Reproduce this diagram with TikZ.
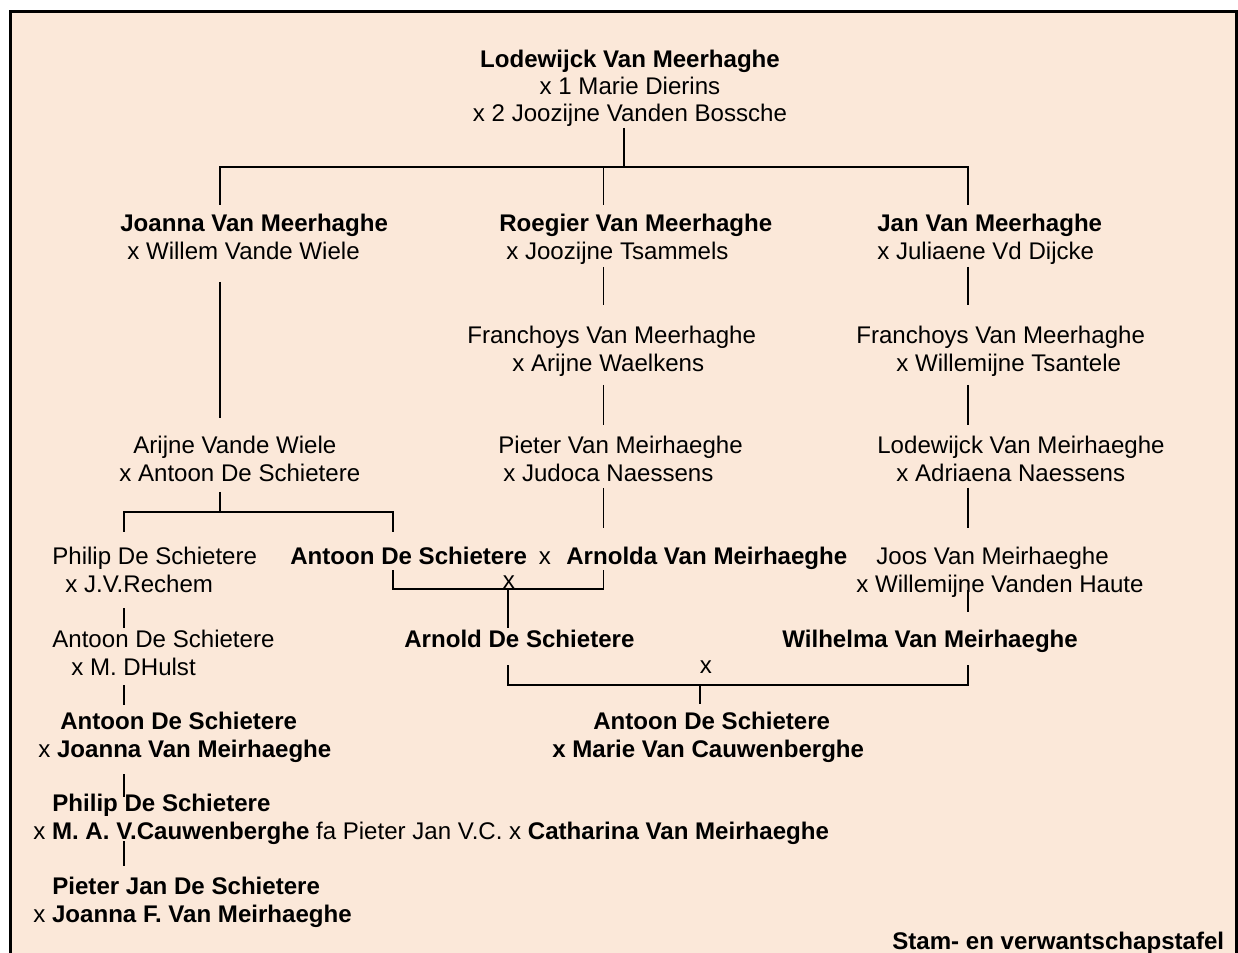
\documentclass[tikz,border=0pt]{standalone}
\usepackage{fontspec}
\setmainfont{Liberation Sans}
\definecolor{chart}{RGB}{251,232,217}
\tikzset{
	plainname/.style={inner sep=0pt, anchor=base west},
	boldname/.style={plainname, font=\bfseries},
	branch/.style={line width=0.85pt},
	chartframe/.style={line width=1.7pt}
}
\begin{document}
\fontsize{13.7}{16}\selectfont
\begin{tikzpicture}
	%Background
		\fill[white] (0,0) rectangle (24.76,-19.06);
		\useasboundingbox (0,0) rectangle (24.76,-19.06);
		\fill[chart] (0.21,-0.23) rectangle (24.72,-19.06);
		\draw[chartframe] (0.21,-19.2) -- (0.21,-0.23) -- (24.72,-0.23) -- (24.72,-19.2);
	%Lodewijck Van Meerhaghe
		\node[boldname, anchor=base] (lode) at (12.60,-1.36) {Lodewijck Van Meerhaghe};
		\node[plainname, anchor=base] (lodeA) at (12.60,-1.90) {x 1 Marie Dierins};
		\node[plainname, anchor=base] (lodeB) at (12.60,-2.44) {x 2 Joozijne Vanden Bossche};
	%Lodewijck->children
		\coordinate (lodeStem) at (12.48,-2.56);
		\coordinate (lodeBar) at (12.48,-3.34);
		\coordinate (joannaStem) at (4.40,-4.10);
		\coordinate (roegierStem) at (12.07,-4.10);
		\coordinate (janStem) at (19.36,-4.10);
		\draw[branch] (lodeStem) -- (lodeBar);
		\draw[branch] (joannaStem) |- (lodeBar) -| (janStem);
		\draw[branch] (roegierStem) -- (roegierStem |- lodeBar);
	%Joanna Van Meerhaghe
		\node[boldname] (joanna) at (2.40,-4.64) {Joanna Van Meerhaghe};
		\node[plainname] (joannaX) at (2.54,-5.20) {x Willem Vande Wiele};
	%Roegier Van Meerhaghe
		\node[boldname] (roegier) at (9.98,-4.64) {Roegier Van Meerhaghe};
		\node[plainname] (roegierX) at (10.12,-5.20) {x Joozijne Tsammels};
	%Jan Van Meerhaghe
		\node[boldname] (jan) at (17.54,-4.64) {Jan Van Meerhaghe};
		\node[plainname] (janX) at (17.54,-5.20) {x Juliaene Vd Dijcke};
	%Joanna->Arijne
		\coordinate (joannaDown) at (4.40,-5.64);
		\coordinate (arijneUp) at (4.40,-8.36);
		\draw[branch] (joannaDown) -- (arijneUp);
	%Roegier->Franchoys
		\coordinate (roegierDown) at (12.07,-5.34);
		\coordinate (franchoysAUp) at (12.07,-6.10);
		\draw[branch] (roegierDown) -- (franchoysAUp);
	%Jan->Franchoys
		\coordinate (janDown) at (19.36,-5.34);
		\coordinate (franchoysBUp) at (19.36,-6.10);
		\draw[branch] (janDown) -- (franchoysBUp);
	%Franchoys Van Meerhaghe (middle)
		\node[plainname] (franchoysA) at (9.34,-6.87) {Franchoys Van Meerhaghe};
		\node[plainname] (franchoysAX) at (10.24,-7.43) {x Arijne Waelkens};
	%Franchoys Van Meerhaghe (right)
		\node[plainname] (franchoysB) at (17.12,-6.87) {Franchoys Van Meerhaghe};
		\node[plainname] (franchoysBX) at (17.92,-7.43) {x Willemijne Tsantele};
	%Franchoys->Pieter
		\coordinate (franchoysADown) at (12.07,-7.70);
		\coordinate (pieterUp) at (12.07,-8.50);
		\draw[branch] (franchoysADown) -- (pieterUp);
	%Franchoys->Lodewijck
		\coordinate (franchoysBDown) at (19.36,-7.70);
		\coordinate (lodewijckUp) at (19.36,-8.50);
		\draw[branch] (franchoysBDown) -- (lodewijckUp);
	%Arijne Vande Wiele
		\node[plainname] (arijne) at (2.66,-9.07) {Arijne Vande Wiele};
		\node[plainname] (arijneX) at (2.38,-9.63) {x Antoon De Schietere};
	%Pieter Van Meirhaeghe
		\node[plainname] (pieter) at (9.96,-9.07) {Pieter Van Meirhaeghe};
		\node[plainname] (pieterX) at (10.06,-9.63) {x Judoca Naessens};
	%Lodewijck Van Meirhaeghe
		\node[plainname] (lodewijck) at (17.54,-9.07) {Lodewijck Van Meirhaeghe};
		\node[plainname] (lodewijckX) at (17.92,-9.63) {x Adriaena Naessens};
	%Arijne->children
		\coordinate (arijneStem) at (4.40,-9.84);
		\coordinate (arijneBar) at (4.40,-10.24);
		\coordinate (philipStem) at (2.48,-10.64);
		\coordinate (antoonBStem) at (7.86,-10.64);
		\draw[branch] (arijneStem) -- (arijneBar);
		\draw[branch] (philipStem) |- (arijneBar) -| (antoonBStem);
	%Pieter->Arnolda
		\coordinate (pieterDown) at (12.07,-9.76);
		\coordinate (arnoldaUp) at (12.07,-10.56);
		\draw[branch] (pieterDown) -- (arnoldaUp);
	%Lodewijck->Joos
		\coordinate (lodewijckDown) at (19.36,-9.76);
		\coordinate (joosUp) at (19.36,-10.56);
		\draw[branch] (lodewijckDown) -- (joosUp);
	%Philip De Schietere
		\node[plainname] (philip) at (1.04,-11.28) {Philip De Schietere};
		\node[plainname] (philipX) at (1.30,-11.84) {x J.V.Rechem};
	%Antoon De Schietere x Arnolda Van Meirhaeghe
		\node[boldname] (antoonB) at (5.80,-11.28) {Antoon De Schietere};
		\node[plainname, anchor=base] (wedA) at (10.90,-11.28) {x};
		\node[boldname] (arnolda) at (11.32,-11.28) {Arnolda Van Meirhaeghe};
	%Joos Van Meirhaeghe
		\node[plainname] (joos) at (17.52,-11.28) {Joos Van Meirhaeghe};
		\node[plainname] (joosX) at (17.12,-11.84) {x Willemijne Vanden Haute};
	%Antoon x Arnolda->Arnold
		\coordinate (antoonBLeg) at (7.86,-11.40);
		\coordinate (arnoldaLeg) at (12.07,-11.40);
		\coordinate (arnoldBar) at (10.16,-11.78);
		\coordinate (arnoldUp) at (10.16,-12.56);
		\node[plainname, anchor=base] (wedB) at (10.18,-11.78) {x};
		\draw[branch] (antoonBLeg) |- (arnoldBar) -| (arnoldaLeg);
		\draw[branch] (arnoldBar) -- (arnoldUp);
	%Philip->Antoon
		\coordinate (philipDown) at (2.48,-12.16);
		\coordinate (antoonCUp) at (2.48,-12.56);
		\draw[branch] (philipDown) -- (antoonCUp);
	%Joos->Wilhelma
		\coordinate (joosDown) at (19.36,-11.80);
		\coordinate (wilhelmaUp) at (19.36,-12.24);
		\draw[branch] (joosDown) -- (wilhelmaUp);
	%Antoon De Schietere
		\node[plainname] (antoonC) at (1.04,-12.94) {Antoon De Schietere};
		\node[plainname] (antoonCX) at (1.42,-13.50) {x M. DHulst};
	%Arnold De Schietere
		\node[boldname] (arnold) at (8.08,-12.94) {Arnold De Schietere};
	%Wilhelma Van Meirhaeghe
		\node[boldname] (wilhelma) at (15.64,-12.94) {Wilhelma Van Meirhaeghe};
	%Arnold x Wilhelma->Antoon
		\coordinate (arnoldLeg) at (10.16,-13.30);
		\coordinate (wilhelmaLeg) at (19.36,-13.30);
		\coordinate (antoonEBar) at (14.00,-13.70);
		\coordinate (antoonEUp) at (14.00,-14.08);
		\node[plainname, anchor=base] (wedC) at (14.12,-13.46) {x};
		\draw[branch] (arnoldLeg) |- (antoonEBar) -| (wilhelmaLeg);
		\draw[branch] (antoonEBar) -- (antoonEUp);
	%Antoon->Antoon
		\coordinate (antoonCDown) at (2.48,-13.70);
		\coordinate (antoonDUp) at (2.48,-14.10);
		\draw[branch] (antoonCDown) -- (antoonDUp);
	%Antoon De Schietere x Joanna Van Meirhaeghe
		\node[boldname] (antoonD) at (1.20,-14.58) {Antoon De Schietere};
		\node[plainname] (antoonDX) at (0.76,-15.14) {x \textbf{Joanna Van Meirhaeghe}};
	%Antoon De Schietere x Marie Van Cauwenberghe
		\node[boldname] (antoonE) at (11.86,-14.58) {Antoon De Schietere};
		\node[boldname] (antoonEX) at (11.04,-15.14) {x Marie Van Cauwenberghe};
	%Antoon->Philip
		\coordinate (antoonDDown) at (2.48,-15.48);
		\coordinate (philipBUp) at (2.48,-15.94);
		\draw[branch] (antoonDDown) -- (philipBUp);
	%Philip De Schietere
		\node[boldname] (philipB) at (1.04,-16.23) {Philip De Schietere};
		\node[plainname] (philipBX) at (0.66,-16.79) {x \textbf{M. A. V.Cauwenberghe} fa Pieter Jan V.C. x \textbf{Catharina Van Meirhaeghe}};
	%Philip->Pieter Jan
		\coordinate (philipBDown) at (2.48,-16.82);
		\coordinate (pieterJUp) at (2.48,-17.32);
		\draw[branch] (philipBDown) -- (pieterJUp);
	%Pieter Jan De Schietere
		\node[boldname] (pieterJ) at (1.04,-17.89) {Pieter Jan De Schietere};
		\node[plainname] (pieterJX) at (0.66,-18.45) {x \textbf{Joanna F. Van Meirhaeghe}};
	%Title
		\node[boldname] (title) at (17.84,-18.99) {Stam- en verwantschapstafel};
\end{tikzpicture}
\end{document}
